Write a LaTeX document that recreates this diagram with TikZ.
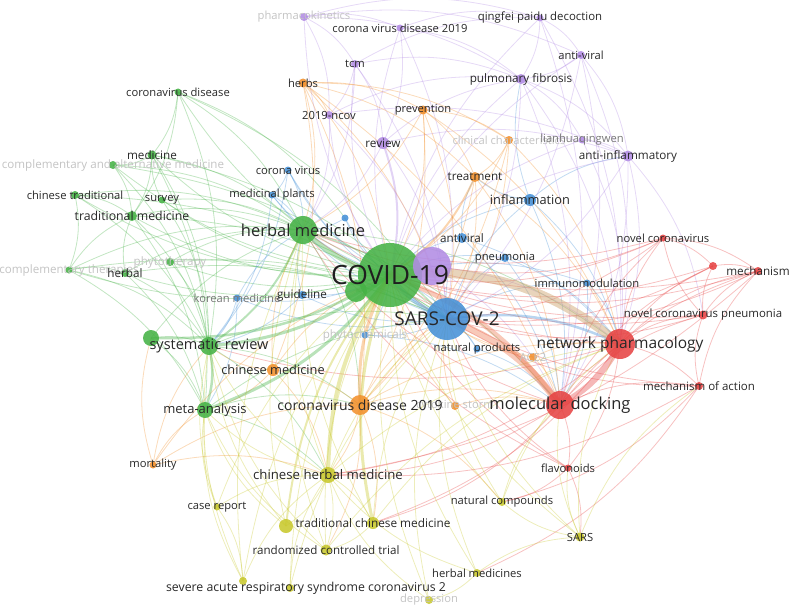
\documentclass[tikz,border=0pt]{standalone}
\usepackage{fontspec}
\setmainfont{Open Sans}
\definecolor{cg}{RGB}{70,178,70}
\definecolor{cb}{RGB}{70,145,215}
\definecolor{cp}{RGB}{178,140,228}
\definecolor{co}{RGB}{242,145,45}
\definecolor{cr}{RGB}{230,68,68}
\definecolor{cy}{RGB}{200,200,45}
\definecolor{ctan}{RGB}{205,160,105}
\definecolor{corr}{RGB}{236,112,72}
\definecolor{labc}{RGB}{40,40,40}
\definecolor{fadec}{RGB}{195,195,195}
\definecolor{midc}{RGB}{120,120,120}
\begin{document}
\begin{tikzpicture}[x=1pt,y=-1pt,
  edge/.style={draw=#1, draw opacity=0.33, line width=0.8pt},
  dot/.style={circle, fill=#1, fill opacity=0.88, inner sep=0pt, draw=none},
  lab/.style={text=labc, font=\fontsize{#1}{#1}\selectfont, inner sep=0pt},
  fad/.style={text=fadec, font=\fontsize{#1}{#1}\selectfont, inner sep=0pt},
  mid/.style={text=midc, font=\fontsize{#1}{#1}\selectfont, inner sep=0pt}]
\useasboundingbox (0,0) rectangle (789,607);
\clip (0,0) rectangle (789,607);
% ---------- positions ----------
% green
\coordinate (covid) at (390,275);
\coordinate (g2) at (356,291);
\coordinate (herbalmed) at (303,230);
\coordinate (sysrev) at (209,346);
\coordinate (g3) at (151,338);
\coordinate (meta) at (205,410);
\coordinate (tradmed) at (132,216);
\coordinate (chintrad) at (75,195);
\coordinate (survey) at (162,200);
\coordinate (medicine) at (152,155);
\coordinate (compalt) at (113,165);
\coordinate (covdis) at (178,92);
\coordinate (phyto) at (170,262);
\coordinate (herbal) at (125,273);
\coordinate (compther) at (69,270);
% blue
\coordinate (sars2) at (447,319);
\coordinate (inflam) at (530,200);
\coordinate (antiviral) at (462,238);
\coordinate (pneum) at (505,258);
\coordinate (immuno) at (587,283);
\coordinate (natprod) at (477,349);
\coordinate (phytochem) at (365,335);
\coordinate (korean) at (237,298);
\coordinate (guide) at (302,295);
\coordinate (coronavirus) at (288,170);
\coordinate (medplants) at (272,195);
\coordinate (b1) at (345,218);
% purple
\coordinate (p1) at (432,266);
\coordinate (pharmk) at (304,17);
\coordinate (tcm) at (355,64);
\coordinate (ncov) at (329,115);
\coordinate (review) at (383,143);
\coordinate (cvd2019) at (400,28);
\coordinate (qingfei) at (540,18);
\coordinate (antiviral2) at (581,55);
\coordinate (pulm) at (521,79);
\coordinate (lianhua) at (582,140);
\coordinate (antiinf) at (628,156);
% orange
\coordinate (herbs) at (303,83);
\coordinate (prev) at (423,110);
\coordinate (clinical) at (509,140);
\coordinate (treat) at (475,177);
\coordinate (ace2) at (533,357);
\coordinate (chinmed) at (273,370);
\coordinate (cd2019) at (360,405);
\coordinate (cyto) at (455,406);
\coordinate (mort) at (153,465);
% red
\coordinate (netph) at (620,344);
\coordinate (moldock) at (560,405);
\coordinate (novcor) at (663,238);
\coordinate (r1) at (713,266);
\coordinate (mech) at (758,271);
\coordinate (ncp) at (703,315);
\coordinate (moa) at (699,386);
\coordinate (flav) at (568,468);
% yellow
\coordinate (chm) at (328,475);
\coordinate (caserep) at (217,507);
\coordinate (y1) at (286,526);
\coordinate (tcmy) at (373,523);
\coordinate (rct) at (326,550);
\coordinate (sars) at (580,537);
\coordinate (y2) at (243,581);
\coordinate (lng) at (290,588);
\coordinate (natcomp) at (502,502);
\coordinate (herbmeds) at (477,573);
\coordinate (depr) at (429,600);
% ---------- thin connectors ----------
\foreach \a/\b in {covid/tradmed, covid/chintrad, covid/survey, covid/medicine, covid/compalt, covid/covdis, covid/phyto, covid/herbal, covid/compther, medicine/tradmed, medicine/compalt, medicine/herbalmed, compalt/herbalmed, chintrad/tradmed, chintrad/herbalmed, compther/herbal, compther/sysrev, compther/herbalmed, compther/tradmed, herbal/herbalmed, phyto/herbalmed, phyto/sysrev, g3/meta, g3/herbalmed, covdis/herbalmed, covdis/medicine, covdis/tradmed, covdis/sars2, meta/chm, sysrev/chm, meta/cd2019, sysrev/cd2019, herbalmed/cd2019, herbalmed/sars2, tradmed/sysrev, chintrad/sysrev, chintrad/compther, survey/herbalmed, survey/medicine, tradmed/meta, medicine/sysrev, herbal/sysrev, herbal/meta, compther/meta, compalt/sysrev, tradmed/herbalmed, herbalmed/netph, herbalmed/moldock, sysrev/sars2, meta/sars2, g3/sysrev, herbal/tradmed, compalt/tradmed, medicine/meta, covdis/b1, covdis/sysrev, compalt/sars2, chintrad/sars2, tradmed/sars2, medicine/sars2, herbal/sars2, compther/sars2, phyto/sars2, survey/sysrev}
  \draw[edge=cg] (\a) to[bend left=16] (\b);
\foreach \a/\b in {sars2/inflam, sars2/antiviral, sars2/pneum, sars2/immuno, sars2/natprod, sars2/phytochem, sars2/korean, sars2/guide, sars2/coronavirus, sars2/medplants, sars2/b1, covid/inflam, covid/antiviral, covid/pneum, covid/immuno, covid/natprod, covid/phytochem, covid/korean, covid/guide, covid/coronavirus, covid/medplants, covid/b1, korean/herbalmed, korean/sysrev, guide/herbalmed, coronavirus/medplants, medplants/herbalmed, coronavirus/herbalmed, inflam/antiinf, inflam/treat, inflam/netph, antiviral/netph, immuno/netph, pneum/netph, phytochem/moldock, natprod/moldock, inflam/moldock, antiviral/moldock, immuno/moldock, b1/herbalmed, guide/sysrev, korean/meta, pneum/moldock, inflam/pulm, antiviral/treat, coronavirus/sysrev, medplants/sysrev}
  \draw[edge=cb] (\a) to[bend left=16] (\b);
\foreach \a/\b in {covid/pharmk, covid/tcm, covid/ncov, covid/cvd2019, covid/qingfei, covid/antiviral2, covid/pulm, covid/lianhua, covid/antiinf, pharmk/cvd2019, pharmk/tcm, tcm/ncov, tcm/review, cvd2019/qingfei, cvd2019/pulm, cvd2019/review, qingfei/pulm, qingfei/antiviral2, antiviral2/pulm, antiviral2/antiinf, antiviral2/netph, pulm/netph, pulm/antiinf, pulm/lianhua, lianhua/antiinf, lianhua/netph, antiinf/netph, antiinf/moldock, qingfei/netph, review/herbalmed, ncov/sars2, ncov/herbalmed, pharmk/qingfei, tcm/sars2, cvd2019/sars2, pulm/sars2, pulm/moldock, antiviral2/sars2, antiinf/sars2, p1/netph, p1/moldock, review/sars2, tcm/herbalmed, qingfei/moldock, antiviral2/moldock, antiinf/ncp, pharmk/ncov, pharmk/antiviral2, pharmk/pulm, tcm/pulm, tcm/qingfei, ncov/pulm, review/pulm, review/antiinf, ncov/antiinf}
  \draw[edge=cp] (\a) to[bend left=16] (\b);
\foreach \a/\b in {herbs/covid, herbs/prev, herbs/treat, herbs/ncov, herbs/sars2, herbs/chinmed, prev/covid, prev/treat, prev/cd2019, prev/herbalmed, clinical/treat, clinical/covid, clinical/cd2019, treat/cd2019, treat/sars2, ace2/sars2, ace2/covid, ace2/moldock, ace2/netph, chinmed/covid, chinmed/cd2019, chinmed/sysrev, chinmed/meta, chinmed/herbalmed, cd2019/moldock, cd2019/netph, cd2019/chm, cd2019/tcmy, cyto/covid, cyto/sars2, cyto/moldock, mort/covid, mort/meta, mort/sysrev, mort/cd2019, mort/chm, herbs/herbalmed, prev/sars2, treat/netph, treat/moldock, clinical/sars2, cd2019/sars2, chinmed/chm, herbs/moldock, prev/netph, mort/g3, cd2019/rct, cd2019/natcomp, herbs/clinical, herbs/cd2019, prev/clinical, clinical/netph}
  \draw[edge=co] (\a) to[bend left=16] (\b);
\foreach \a/\b in {netph/novcor, netph/r1, netph/mech, netph/ncp, netph/moa, netph/flav, moldock/novcor, moldock/r1, moldock/mech, moldock/ncp, moldock/moa, moldock/flav, novcor/covid, novcor/mech, novcor/r1, r1/mech, ncp/mech, ncp/covid, moa/covid, moa/sars2, flav/sars2, flav/covid, mech/covid, mech/sars2, r1/covid, novcor/sars2, moa/natcomp, netph/herbalmed, netph/chm, moldock/tcmy, moldock/chm, netph/tcmy, ncp/r1, ncp/novcor, moa/ncp, moa/mech, flav/natcomp, flav/sars, novcor/p1, moldock/herbalmed, netph/sysrev, ncp/sars2, r1/sars2, moa/herbmeds, novcor/herbalmed, mech/herbalmed, ncp/herbalmed, moa/chm, mech/chm, flav/herbalmed}
  \draw[edge=cr] (\a) to[bend left=16] (\b);
\foreach \a/\b in {chm/sars2, chm/herbalmed, chm/sysrev, chm/meta, chm/rct, chm/tcmy, chm/y1, caserep/covid, caserep/chm, caserep/y2, y1/sysrev, tcmy/rct, tcmy/sars2, rct/covid, rct/sysrev, rct/meta, sars/covid, sars/moldock, sars/natcomp, sars/flav, sars/netph, sars/sars2, y2/covid, y2/chm, y2/sysrev, lng/covid, lng/chm, natcomp/covid, natcomp/moldock, natcomp/sars2, natcomp/netph, herbmeds/covid, herbmeds/depr, herbmeds/sars, depr/covid, depr/chm, herbmeds/chm, y1/meta, y1/herbalmed, tcmy/herbalmed, rct/herbalmed, caserep/sysrev, y2/meta, depr/sars2, lng/sars2, herbmeds/sars2, sars/moa, chm/netph, tcmy/netph, rct/netph, caserep/meta, y2/herbalmed}
  \draw[edge=cy] (\a) to[bend left=16] (\b);
% ---------- thick connectors ----------
\foreach \a/\b/\w/\c in {covid/herbalmed/5/cg, covid/sysrev/3/cg, covid/g3/2.5/cg, covid/meta/3/cg, herbalmed/sysrev/2/cg, covid/g2/3/cg, sysrev/meta/2.5/cg, sars2/covid/4/cb, sars2/netph/2.5/cb, p1/covid/3/cp, review/covid/2/cp, cd2019/covid/3/co, treat/covid/2/co, chm/covid/4/cy, y1/covid/2/cy, tcmy/covid/3/cy, netph/moldock/6/cr, covid/moldock/5/corr, sars2/moldock/7/corr}
  \draw[edge=\c, draw opacity=0.38, line width=\w pt] (\a) to[bend left=16] (\b);
\draw[edge=ctan, draw opacity=0.45, line width=9pt] (covid) to[bend left=22] (netph);
% ---------- circles ----------
\foreach \n/\r/\c in {covid/32/cg, g2/11/cg, herbalmed/14/cg, sysrev/9/cg, g3/8/cg, meta/8/cg, tradmed/5/cg, chintrad/4/cg, survey/3.5/cg, medicine/4.5/cg, compalt/4/cg, covdis/3.5/cg, phyto/4/cg, herbal/4/cg, compther/3.5/cg,
  sars2/21/cb, inflam/6/cb, antiviral/5/cb, pneum/4/cb, immuno/3.5/cb, natprod/3.5/cb, phytochem/3.5/cb, korean/3.5/cb, guide/4/cb, coronavirus/3.5/cb, medplants/3.5/cb, b1/3.5/cb,
  p1/19/cp, pharmk/4/cp, tcm/4/cp, ncov/4/cp, review/6/cp, cvd2019/3.5/cp, qingfei/3.5/cp, antiviral2/4/cp, pulm/5/cp, lianhua/3.5/cp, antiinf/5.5/cp,
  herbs/4.5/co, prev/4.5/co, clinical/4/co, treat/5/co, ace2/4/co, chinmed/6/co, cd2019/10/co, cyto/4/co, mort/3.5/co,
  netph/15/cr, moldock/14/cr, novcor/3.5/cr, r1/4/cr, mech/4/cr, ncp/4.5/cr, moa/4/cr, flav/3.5/cr,
  chm/8/cy, caserep/3.5/cy, y1/7/cy, tcmy/6/cy, rct/5.5/cy, sars/4.5/cy, y2/4/cy, lng/4/cy, natcomp/4/cy, herbmeds/4/cy, depr/4/cy}
  \node[dot=\c, minimum size=\r*2pt] (c-\n) at (\n) {};
% ---------- faded labels ----------
\node[fad=11.6] (t-compalt) at (compalt) {complementary and alternative medicine};
\node[fad=11.6] (t-compther) at (compther) {complementary therapies};
\node[fad=11.6] (t-phyto) at (phyto) {phytotherapy};
\node[fad=11.6] (t-phytochem) at (phytochem) {phytochemicals};
\node[fad=11.2] (t-pharmk) at (pharmk) {pharmacokinetics};
\node[fad=11.2] (t-clinical) at (clinical) {clinical characteristics};
\node[fad=11.2] (t-ace2) at (ace2) {ACE2};
\node[fad=11.2] (t-cyto) at (cyto) {cytokine storm};
\node[fad=11.2] (t-depr) at (depr) {depression};
\node[mid=11.2] (t-korean) at (korean) {korean medicine};
\node[mid=11.2] (t-lianhua) at (lianhua) {lianhuaqingwen};
% ---------- labels ----------
\node[lab=26.5, text=black!88] (t-covid) at (covid) {COVID-19};
\node[lab=16.5] (t-herbalmed) at (herbalmed) {herbal medicine};
\node[lab=14.5] (t-sysrev) at (sysrev) {systematic review};
\node[lab=13] (t-meta) at (meta) {meta-analysis};
\node[lab=12.3] (t-tradmed) at (tradmed) {traditional medicine};
\node[lab=11.2] (t-chintrad) at (chintrad) {chinese traditional};
\node[lab=11.2] (t-survey) at (survey) {survey};
\node[lab=11.7] (t-medicine) at (medicine) {medicine};
\node[lab=11.2] (t-covdis) at (covdis) {coronavirus disease};
\node[lab=11.7] (t-herbal) at (herbal) {herbal};
\node[lab=19] (t-sars2) at (sars2) {SARS-COV-2};
\node[lab=12.8] (t-inflam) at (inflam) {inflammation};
\node[lab=11.7] (t-antiviral) at (antiviral) {antiviral};
\node[lab=11.2] (t-pneum) at (pneum) {pneumonia};
\node[lab=11.2] (t-immuno) at (immuno) {immunomodulation};
\node[lab=11.2] (t-natprod) at (natprod) {natural products};
\node[lab=11.7] (t-guide) at (guide) {guideline};
\node[lab=11.2] (t-coronavirus) at (coronavirus) {corona virus};
\node[lab=11.2] (t-medplants) at (medplants) {medicinal plants};
\node[lab=11.2] (t-tcm) at (tcm) {tcm};
\node[lab=11.2] (t-ncov) at (ncov) {2019-ncov};
\node[lab=11.7] (t-review) at (review) {review};
\node[lab=11.2] (t-cvd2019) at (cvd2019) {corona virus disease 2019};
\node[lab=11.4] (t-qingfei) at (qingfei) {qingfei paidu decoction};
\node[lab=11.2] (t-antiviral2) at (antiviral2) {anti-viral};
\node[lab=11.7] (t-pulm) at (pulm) {pulmonary fibrosis};
\node[lab=11.7] (t-antiinf) at (antiinf) {anti-inflammatory};
\node[lab=11.2] (t-herbs) at (herbs) {herbs};
\node[lab=11.2] (t-prev) at (prev) {prevention};
\node[lab=11.7] (t-treat) at (treat) {treatment};
\node[lab=12.8] (t-chinmed) at (chinmed) {chinese medicine};
\node[lab=14] (t-cd2019) at (cd2019) {coronavirus disease 2019};
\node[lab=11.2] (t-mort) at (mort) {mortality};
\node[lab=15.5] (t-netph) at (netph) {network pharmacology};
\node[lab=16.5] (t-moldock) at (moldock) {molecular docking};
\node[lab=11.2] (t-novcor) at (novcor) {novel coronavirus};
\node[lab=11.7] (t-mech) at (mech) {mechanism};
\node[lab=11.4] (t-ncp) at (ncp) {novel coronavirus pneumonia};
\node[lab=11.5] (t-moa) at (moa) {mechanism of action};
\node[lab=11.2] (t-flav) at (flav) {flavonoids};
\node[lab=13.2] (t-chm) at (chm) {chinese herbal medicine};
\node[lab=11.2] (t-caserep) at (caserep) {case report};
\node[lab=11.8] (t-tcmy) at (tcmy) {traditional chinese medicine};
\node[lab=11.6] (t-rct) at (rct) {randomized controlled trial};
\node[lab=11.2] (t-sars) at (sars) {SARS};
\node[lab=12.3] (t-lng) at (306,588) {severe acute respiratory syndrome coronavirus 2};
\node[lab=11.2] (t-natcomp) at (natcomp) {natural compounds};
\node[lab=11.2] (t-herbmeds) at (herbmeds) {herbal medicines};
\end{tikzpicture}
\end{document}
